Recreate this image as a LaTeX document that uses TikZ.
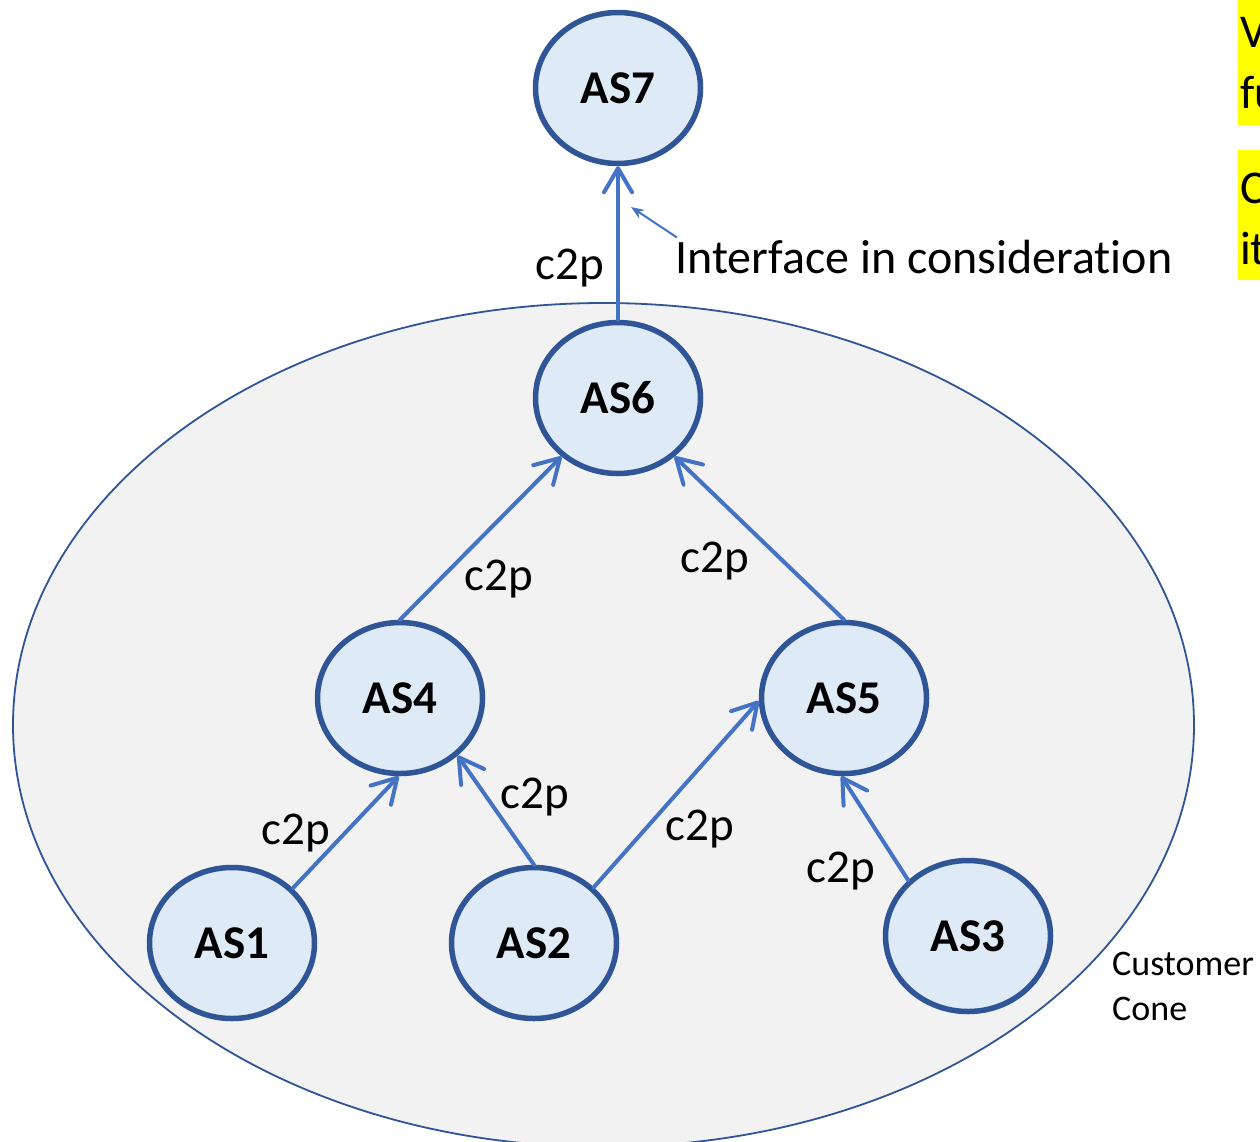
\documentclass[tikz,border=0pt]{standalone}
\usepackage{fontspec}
\setmainfont[Ligatures=NoCommon]{Carlito}
\usetikzlibrary{shapes.geometric,arrows.meta}
\definecolor{asfill}{HTML}{DEEBF7}
\definecolor{asline}{HTML}{2F5597}
\definecolor{linkblue}{HTML}{4472C4}
\definecolor{conefill}{HTML}{F2F2F2}
\definecolor{marker}{HTML}{FFFF00}
\tikzset{
  asnode/.style={ellipse, draw=asline, fill=asfill, line width=5.5pt,
    minimum width=165pt, minimum height=151pt, inner sep=0pt,
    font=\fontsize{47}{56}\selectfont\bfseries},
  c2plink/.style={draw=linkblue, line width=4pt, line cap=round,
    -{Straight Barb[length=24pt,width=28pt,line width=4pt,round]}},
  linklabel/.style={font=\fontsize{47}{56}\selectfont, inner sep=0pt},
}
\begin{document}
\begin{tikzpicture}[x=1pt,y=-1pt]
\useasboundingbox (0,0) rectangle (1260,1141);
\fill[white] (0,0) rectangle (1260,1141);

% customer cone
\draw[asline, fill=conefill, line width=1.8pt] (603.5,725) ellipse [x radius=590.5, y radius=422];

% highlighted notes at the right edge
\fill[marker] (1238,0) rectangle (1262,125);
\fill[marker] (1238,150) rectangle (1262,280);
\node[linklabel, anchor=base west] (noteA) at (1240,47) {V};
\node[linklabel, anchor=base west] (noteB) at (1240,108) {fu};
\node[linklabel, anchor=base west] (noteC) at (1240,203) {C};
\node[linklabel, anchor=base west] (noteD) at (1240,264) {it};

% autonomous systems
\node[asnode] (as7) at (618,88) {AS7};
\node[asnode] (as6) at (618,398) {AS6};
\node[asnode] (as4) at (400,698) {AS4};
\node[asnode] (as5) at (844,698) {AS5};
\node[asnode] (as1) at (232,943) {AS1};
\node[asnode] (as2) at (534,943) {AS2};
\node[asnode] (as3) at (968,936) {AS3};

% customer-to-provider links
\draw[c2plink] (as6.north) -- (as7.south);
\draw[c2plink] (as4.north) -- (as6.-134);
\draw[c2plink] (as5.north) -- (as6.-46);
\draw[c2plink] (as1.42) -- (as4.-91);
\draw[c2plink] (as2.north) -- (as4.-45);
\draw[c2plink] (as2.43) -- (as5.182);
\draw[c2plink] (as3.137) -- (as5.-92);

% link labels
\node[linklabel] (l67) at (570,268) {c2p};
\node[linklabel] (l46) at (499,579) {c2p};
\node[linklabel] (l56) at (715,561) {c2p};
\node[linklabel] (l14) at (296,833) {c2p};
\node[linklabel] (l24) at (535,797) {c2p};
\node[linklabel] (l25) at (700,829) {c2p};
\node[linklabel] (l35) at (841,871) {c2p};

% pointer to the AS6-AS7 interface
\node[font=\fontsize{48}{56}\selectfont, inner sep=0pt, anchor=base west] (iface) at (675,273) {Interface in consideration};
\coordinate (ifacetip) at (631,207);
\draw[linkblue, line width=2pt, -{Stealth[length=13pt,width=10pt]}] (iface.north west) ++(2,-2) coordinate (ifacetail) -- (ifacetip);

% cone caption
\node[font=\fontsize{36}{45}\selectfont, align=left, anchor=north west, inner sep=0pt] (cone) at (1112,952) {Customer\\Cone};
\end{tikzpicture}
\end{document}
